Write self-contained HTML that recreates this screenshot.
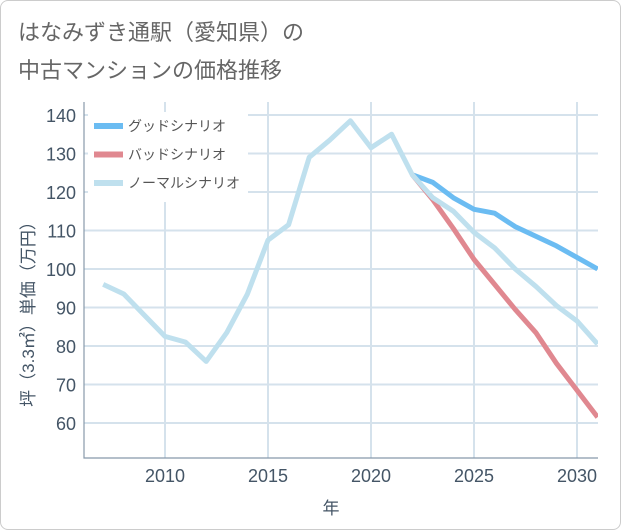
<!DOCTYPE html>
<html><head><meta charset="utf-8"><style>
body{margin:0;background:#fff;}
#card{position:absolute;left:0;top:0;width:619px;height:528px;border:1px solid #ccc;border-radius:8px;background:#fff;}
.t{position:absolute;left:18px;font:22px "Liberation Sans","Noto Sans CJK JP",sans-serif;color:#666;}
svg{position:absolute;left:0;top:0;font-family:"Liberation Sans","Noto Sans CJK JP",sans-serif;}
</style></head><body>
<div id="card"></div>
<div class="t" style="top:15px">はなみずき通駅（愛知県）の</div>
<div class="t" style="top:53px">中古マンションの価格推移</div>
<svg id="c" width="621" height="530"></svg>
<script>
const years=[2007,2008,2009,2010,2011,2012,2013,2014,2015,2016,2017,2018,2019,2020,2021,2022,2023,2024,2025,2026,2027,2028,2029,2030,2031];
const normal=[96,93.5,88,82.5,81,76,83.5,93.5,107.5,111.5,129,133.5,138.5,131.5,135,124.5,118.5,115,109.5,105.5,100,95.5,90.5,86.5,80.5];
const predYears=[2022,2023,2024,2025,2026,2027,2028,2029,2030,2031];
const good=[124.5,122.5,118.5,115.5,114.5,111,108.5,106,103,100];
const bad=[124.5,118,110.5,102.5,96,89.5,83.5,75.5,68.5,61.5];
const xTicks=[2010,2015,2020,2025,2030];
const yTicks=[60,70,80,90,100,110,120,130,140];
const L=84,R=598,T=102,B=458;
const x=v=>165+(v-2010)*20.6;
const y=v=>423-(v-60)*3.85;
const s=document.getElementById('c');const NS='http://www.w3.org/2000/svg';
function mk(t,a,p){const e=document.createElementNS(NS,t);for(const k in a)e.setAttribute(k,a[k]);(p||s).appendChild(e);return e;}
const defs=mk('defs',{});const cp=mk('clipPath',{id:'cp'},defs);mk('rect',{x:L,y:T,width:R-L,height:B-T},cp);
for(const v of yTicks){const g=mk('line',{x1:L,x2:R,y1:y(v),y2:y(v),stroke:'#d5e2ec','stroke-width':2});

const t=mk('text',{x:L-8,y:y(v)+7,'text-anchor':'end','font-size':18,fill:'#445566'});t.textContent=v;
}
for(const v of xTicks){const g=mk('line',{x1:x(v),x2:x(v),y1:T,y2:B,stroke:'#d5e2ec','stroke-width':2});

const t=mk('text',{x:x(v),y:B+24,'text-anchor':'middle','font-size':18,fill:'#445566'});t.textContent=v;
}
const ax=mk('path',{d:`M${L},${T}V${B}H${R}`,fill:'none',stroke:'#8899aa','stroke-width':1.2});

function line(xs,vs,c,n){const p=mk('polyline',{points:xs.map((v,i)=>x(v)+','+y(vs[i])).join(' '),fill:'none',stroke:c,'stroke-width':5,'stroke-linejoin':'round','clip-path':'url(#cp)'});
}
line(predYears,good,'#6bbcf2','good-scenario-line');
line(predYears,bad,'#e08890','bad-scenario-line');
line(years,normal,'#bfe0ee','normal-scenario-line');
const lg=mk('rect',{x:88,y:112,width:160,height:90,fill:'#fff'});
[['グッドシナリオ','#6bbcf2'],['バッドシナリオ','#e08890'],['ノーマルシナリオ','#bfe0ee']].forEach((d,i)=>{
const yy=126+i*28.5;const l=mk('line',{x1:94,x2:123,y1:yy,y2:yy,stroke:d[1],'stroke-width':6});

const t=mk('text',{x:128,y:yy+5,'font-size':14,fill:'#555'});t.textContent=d[0];
});
const xt=mk('text',{x:331,y:514,'text-anchor':'middle','font-size':17,fill:'#445566'});xt.textContent='年';

const yt=mk('text',{x:0,y:0,'text-anchor':'middle','font-size':17,fill:'#445566',transform:'translate(34,310) rotate(-90)'});yt.textContent='坪（3.3㎡）単価（万円）';

</script>
</body></html>
